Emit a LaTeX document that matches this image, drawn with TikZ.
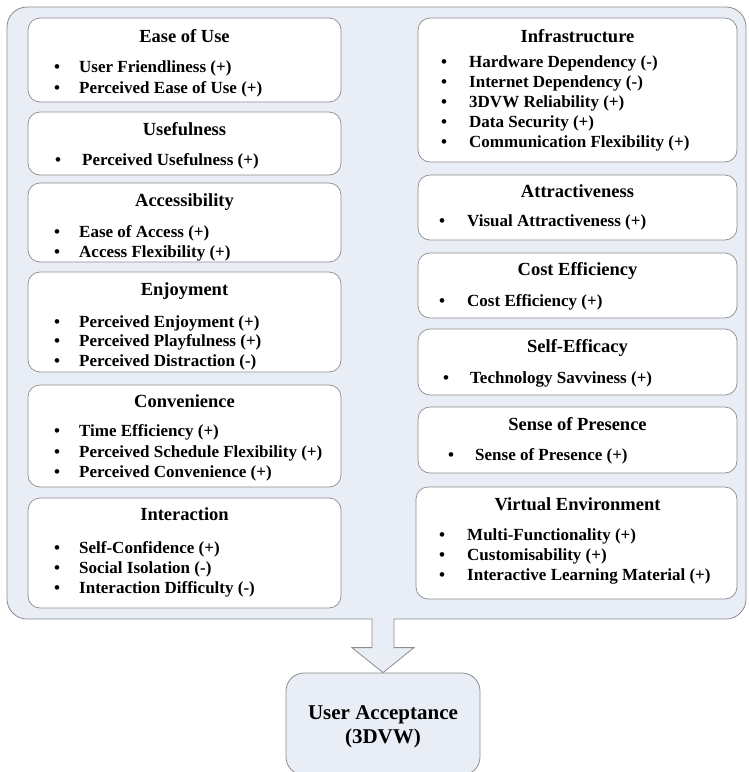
\documentclass[tikz,border=0pt]{standalone}
\usepackage{fontspec}
\setmainfont{Liberation Serif}
\usetikzlibrary{fit}
\definecolor{paneL}{RGB}{233,238,246}
\definecolor{edgeC}{RGB}{140,140,140}
\begin{document}
\begin{tikzpicture}[x=1pt,y=-1pt,
  panel/.style={draw=edgeC, fill=paneL, rounded corners=20pt, line width=0.8pt, inner sep=0pt},
  card/.style={draw=edgeC, fill=white, rounded corners=12pt, line width=0.7pt, inner sep=0pt},
  result/.style={draw=edgeC, fill=paneL, rounded corners=18pt, line width=0.8pt, inner sep=0pt},
  ttl/.style={font=\fontsize{18.5}{21}\selectfont\bfseries, inner sep=0pt, anchor=mid, yshift=-3pt},
  itm/.style={font=\fontsize{17}{20}\selectfont\bfseries, anchor=mid west, inner sep=0pt, yshift=-3.5pt},
  dot/.style={font=\fontsize{17}{20}\selectfont\bfseries, anchor=mid, inner sep=0pt, yshift=-3.5pt},
  big/.style={font=\fontsize{21}{24}\selectfont\bfseries, align=center, inner sep=0pt},
  arrowline/.style={draw=edgeC, line width=0.8pt, line join=miter}]
\useasboundingbox (0,0) rectangle (748,772);

% outer panel
\node[panel, fit={(7,7) (746,619)}] (panel) {};

% ---------- left column ----------
\node[card, fit={(28,18) (341,102)}] (eou) {};
\node[ttl] (eout) at (184.5,37) {Ease of Use};
\node[dot] (eoud1) at (57,67) {•}; \node[itm] (eoui1) at (79,67) {User Friendliness (+)};
\node[dot] (eoud2) at (57,88) {•}; \node[itm] (eoui2) at (79,88) {Perceived Ease of Use (+)};

\node[card, fit={(28,112) (341,175)}] (use) {};
\node[ttl] (uset) at (184.5,130) {Usefulness};
\node[dot] (used1) at (58,160) {•}; \node[itm] (usei1) at (82,160) {Perceived Usefulness (+)};

\node[card, fit={(28,183) (341,262)}] (acc) {};
\node[ttl] (acct) at (184.5,201) {Accessibility};
\node[dot] (accd1) at (57,232) {•}; \node[itm] (acci1) at (79,232) {Ease of Access (+)};
\node[dot] (accd2) at (57,252) {•}; \node[itm] (acci2) at (79,252) {Access Flexibility (+)};

\node[card, fit={(28,272) (341,372)}] (enj) {};
\node[ttl] (enjt) at (184.5,290) {Enjoyment};
\node[dot] (enjd1) at (57,322) {•}; \node[itm] (enji1) at (79,322) {Perceived Enjoyment (+)};
\node[dot] (enjd2) at (57,341) {•}; \node[itm] (enji2) at (79,341) {Perceived Playfulness (+)};
\node[dot] (enjd3) at (57,361) {•}; \node[itm] (enji3) at (79,361) {Perceived Distraction (-)};

\node[card, fit={(28,385) (341,487)}] (con) {};
\node[ttl] (cont) at (184.5,402) {Convenience};
\node[dot] (cond1) at (57,431) {•}; \node[itm] (coni1) at (79,431) {Time Efficiency (+)};
\node[dot] (cond2) at (57,452) {•}; \node[itm] (coni2) at (79,452) {Perceived Schedule Flexibility (+)};
\node[dot] (cond3) at (57,472) {•}; \node[itm] (coni3) at (79,472) {Perceived Convenience (+)};

\node[card, fit={(28,498) (341,608)}] (int) {};
\node[ttl] (intt) at (184.5,515) {Interaction};
\node[dot] (intd1) at (57,548) {•}; \node[itm] (inti1) at (79,548) {Self-Confidence (+)};
\node[dot] (intd2) at (57,568) {•}; \node[itm] (inti2) at (79,568) {Social Isolation (-)};
\node[dot] (intd3) at (57,588) {•}; \node[itm] (inti3) at (79,588) {Interaction Difficulty (-)};

% ---------- right column ----------
\node[card, fit={(418,18) (737,162)}] (inf) {};
\node[ttl] (inft) at (577.5,37) {Infrastructure};
\node[dot] (infd1) at (444,62) {•}; \node[itm] (infi1) at (469,62) {Hardware Dependency (-)};
\node[dot] (infd2) at (444,82) {•}; \node[itm] (infi2) at (469,82) {Internet Dependency (-)};
\node[dot] (infd3) at (444,102) {•}; \node[itm] (infi3) at (469,102) {3DVW Reliability (+)};
\node[dot] (infd4) at (444,122) {•}; \node[itm] (infi4) at (469,122) {Data Security (+)};
\node[dot] (infd5) at (444,142) {•}; \node[itm] (infi5) at (469,142) {Communication Flexibility (+)};

\node[card, fit={(418,175) (737,240)}] (att) {};
\node[ttl] (attt) at (577.5,192) {Attractiveness};
\node[dot] (attd1) at (442,221) {•}; \node[itm] (atti1) at (467,221) {Visual Attractiveness (+)};

\node[card, fit={(418,253) (737,318)}] (cost) {};
\node[ttl] (costt) at (577.5,270) {Cost Efficiency};
\node[dot] (costd1) at (442,301) {•}; \node[itm] (costi1) at (467,301) {Cost Efficiency (+)};

\node[card, fit={(418,329) (737,395)}] (sef) {};
\node[ttl] (seft) at (577.5,347) {Self-Efficacy};
\node[dot] (sefd1) at (446,378) {•}; \node[itm] (sefi1) at (470,378) {Technology Savviness (+)};

\node[card, fit={(418,407) (737,473)}] (sop) {};
\node[ttl] (sopt) at (577.5,425) {Sense of Presence};
\node[dot] (sopd1) at (451,455) {•}; \node[itm] (sopi1) at (475,455) {Sense of Presence (+)};

\node[card, fit={(416,487) (737,599)}] (ven) {};
\node[ttl] (vent) at (577.5,505) {Virtual Environment};
\node[dot] (vend1) at (442,535) {•}; \node[itm] (veni1) at (467,535) {Multi-Functionality (+)};
\node[dot] (vend2) at (442,555) {•}; \node[itm] (veni2) at (467,555) {Customisability (+)};
\node[dot] (vend3) at (442,575) {•}; \node[itm] (veni3) at (467,575) {Interactive Learning Material (+)};

% ---------- result ----------
\node[result, fit={(286,673) (480,775)}] (ua) {};
\node[big] (uat) at (383,727) {User Acceptance\\(3DVW)};

% ---------- block arrow ----------
\coordinate (tip) at (ua.north);
\fill[paneL] (tip) -- ++(-31,-25) -- ++(20,0) -- ++(0,-35) -- ++(22,0) -- ++(0,35) -- ++(20,0) -- cycle;
\draw[arrowline] (tip) -- ++(-31,-25) -- ++(20,0) -- ++(0,-29);
\draw[arrowline] (tip) -- ++(31,-25) -- ++(-20,0) -- ++(0,-29);
\end{tikzpicture}
\end{document}
